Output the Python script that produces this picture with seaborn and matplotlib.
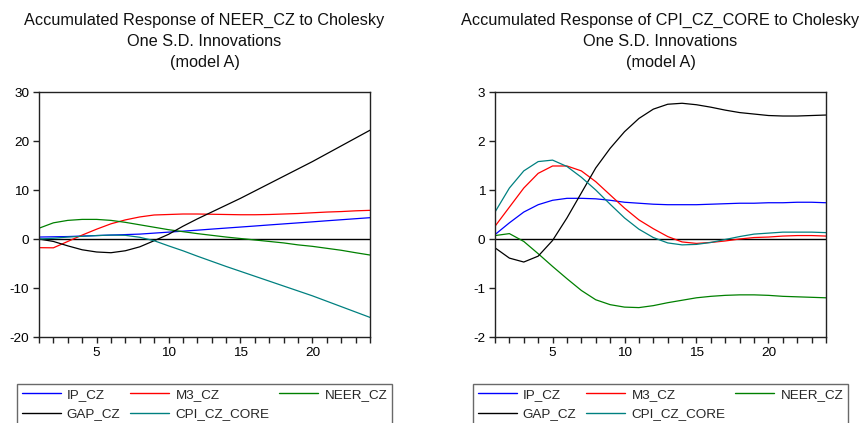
import matplotlib
matplotlib.use("Agg")
import matplotlib.pyplot as plt
from matplotlib.lines import Line2D
from matplotlib.ticker import FixedLocator
import numpy as np
import pandas as pd
import seaborn as sns

periods = list(range(1, 25))
series_names = ["IP_CZ", "M3_CZ", "NEER_CZ", "GAP_CZ", "CPI_CZ_CORE"]
series_colors = ["#0000ff", "#ff0000", "#008000", "#000000", "#008080"]

# Left panel: Accumulated response of NEER_CZ
neer_ip = [0.4, 0.45, 0.5, 0.6, 0.7, 0.8, 0.9, 1.0, 1.2, 1.4, 1.6, 1.8,
           2.02, 2.23, 2.44, 2.65, 2.87, 3.08, 3.29, 3.5, 3.72, 3.93, 4.14, 4.35]
neer_m3 = [-1.77, -1.8, -0.5, 0.8, 2.0, 3.1, 3.9, 4.5, 4.9, 5.0, 5.1, 5.1,
           5.05, 5.0, 4.95, 4.95, 5.0, 5.1, 5.2, 5.35, 5.5, 5.6, 5.75, 5.85]
neer_neer = [2.2, 3.3, 3.8, 4.0, 4.0, 3.8, 3.4, 2.9, 2.4, 1.9, 1.5, 1.1,
             0.75, 0.4, 0.1, -0.2, -0.5, -0.8, -1.2, -1.5, -1.9, -2.3, -2.8, -3.27]
neer_gap = [0.0, -0.5, -1.4, -2.2, -2.65, -2.8, -2.4, -1.6, -0.35, 0.95, 2.6, 4.1,
            5.5, 6.9, 8.3, 9.8, 11.3, 12.8, 14.3, 15.8, 17.4, 19.0, 20.6, 22.2]
neer_cpi = [0.0, 0.15, 0.4, 0.55, 0.7, 0.8, 0.75, 0.35, -0.35, -1.4, -2.4, -3.5,
            -4.55, -5.6, -6.6, -7.6, -8.6, -9.6, -10.6, -11.6, -12.7, -13.8, -14.9, -16.0]

# Right panel: Accumulated response of CPI_CZ_CORE
cpi_ip = [0.09, 0.33, 0.55, 0.70, 0.79, 0.83, 0.83, 0.82, 0.79, 0.75, 0.73, 0.71,
          0.70, 0.70, 0.70, 0.71, 0.72, 0.73, 0.73, 0.74, 0.74, 0.75, 0.75, 0.74]
cpi_m3 = [0.26, 0.65, 1.04, 1.34, 1.49, 1.49, 1.39, 1.17, 0.90, 0.63, 0.39, 0.21,
          0.05, -0.06, -0.09, -0.07, -0.04, 0.0, 0.03, 0.04, 0.06, 0.07, 0.07, 0.06]
cpi_neer = [0.07, 0.11, -0.05, -0.30, -0.56, -0.81, -1.05, -1.24, -1.34, -1.39, -1.40, -1.36,
            -1.30, -1.25, -1.20, -1.17, -1.15, -1.14, -1.14, -1.15, -1.17, -1.18, -1.19, -1.20]
cpi_gap = [-0.18, -0.39, -0.47, -0.35, -0.03, 0.43, 0.94, 1.45, 1.85, 2.19, 2.46, 2.65,
           2.75, 2.77, 2.74, 2.69, 2.63, 2.58, 2.55, 2.52, 2.51, 2.51, 2.52, 2.53]
cpi_cpi = [0.55, 1.04, 1.39, 1.58, 1.61, 1.48, 1.26, 1.0, 0.71, 0.43, 0.2, 0.03,
           -0.08, -0.12, -0.11, -0.07, -0.01, 0.05, 0.1, 0.12, 0.14, 0.14, 0.14, 0.13]

titles = ["Accumulated Response of NEER_CZ to Cholesky\nOne S.D. Innovations\n(model A)",
          "Accumulated Response of CPI_CZ_CORE to Cholesky\nOne S.D. Innovations\n(model A)"]
yticks_left = [-20, -10, 0, 10, 20, 30]
yticks_right = [-2, -1, 0, 1, 2, 3]
xticks = [5, 10, 15, 20]

sns.set_theme(style="white")
plt.rcParams['font.family'] = ['Liberation Sans', 'DejaVu Sans']
plt.rcParams['axes.unicode_minus'] = False

W, H = 862, 423
fig = plt.figure(figsize=(W / 100, H / 100), dpi=100)
ax1 = fig.add_axes([39 / W, 1 - 337 / H, 331 / W, 245 / H])
ax2 = fig.add_axes([495 / W, 1 - 337 / H, 331 / W, 245 / H])

palette = dict(zip(series_names, series_colors))

panels = [
    (ax1, [neer_ip, neer_m3, neer_neer, neer_gap, neer_cpi], yticks_left, titles[0], 17),
    (ax2, [cpi_ip, cpi_m3, cpi_neer, cpi_gap, cpi_cpi], yticks_right, titles[1], 473),
]

fs = 9.7
for ax, vals, yt, title, legx in panels:
    df = pd.concat([pd.DataFrame({"period": periods, "value": v, "series": n})
                    for n, v in zip(series_names, vals)], ignore_index=True)
    ax.axhline(0, color="black", lw=1.0, zorder=1)
    sns.lineplot(data=df, x="period", y="value", hue="series", hue_order=series_names,
                 palette=palette, ax=ax, linewidth=0.9, legend=False, zorder=2)
    ax.set_xlim(1, 24)
    ax.set_ylim(yt[0], yt[-1])
    ax.set_yticks(yt)
    ax.set_yticklabels([str(t) for t in yt])
    ax.set_xticks(xticks)
    ax.xaxis.set_minor_locator(FixedLocator(periods))
    ax.set_xlabel("")
    ax.set_ylabel("")
    for s in ax.spines.values():
        s.set_color("#222222")
        s.set_linewidth(1.0)
    ax.tick_params(axis="both", which="major", direction="out", length=4, width=1,
                   colors="#222222", labelsize=fs, labelcolor="black", pad=3)
    ax.tick_params(axis="x", which="minor", direction="out", length=4, width=1,
                   colors="#222222", bottom=True)
    ax.tick_params(axis="y", left=True)
    ax.tick_params(axis="x", bottom=True)
    ax.set_title(title, fontsize=11.7, linespacing=1.5, pad=18, color="#111111")

    handles = [Line2D([], [], color=c, lw=1.0) for c in series_colors]
    order = [0, 3, 1, 4, 2]
    leg = ax.legend([handles[i] for i in order], [series_names[i] for i in order],
                    ncol=3, loc="upper left",
                    bbox_to_anchor=(legx / W, 1 - 384 / H, 375 / W, 0),
                    bbox_transform=fig.transFigure, mode="expand", borderaxespad=0,
                    frameon=True, fancybox=False, edgecolor="#444444",
                    fontsize=fs, handlelength=2.9, handletextpad=0.45,
                    labelspacing=0.5, borderpad=0.35, columnspacing=1.0)
    leg.get_frame().set_linewidth(1.0)
    leg.set_clip_on(False)

fig.savefig("out.png", dpi=100)
